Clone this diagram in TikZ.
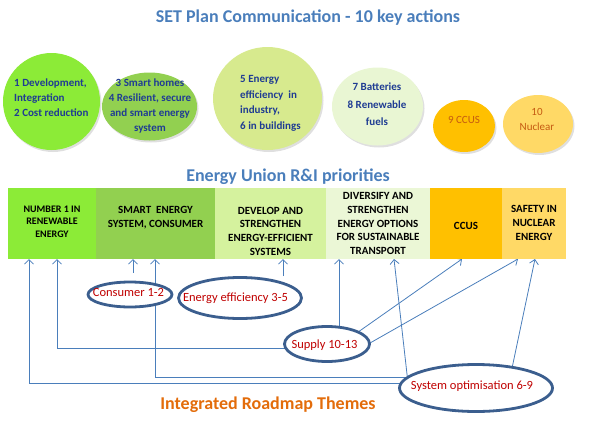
\documentclass[tikz,border=0pt]{standalone}
\usepackage{fontspec}
\setmainfont{Carlito}
\usetikzlibrary{arrows.meta,calc,shadows,backgrounds,shapes.geometric}
\definecolor{cA}{HTML}{8CEB37}
\definecolor{cB}{HTML}{92D050}
\definecolor{cC}{HTML}{D7EA8E}
\definecolor{cD}{HTML}{E9F6D3}
\definecolor{cE}{HTML}{FFC000}
\definecolor{cF}{HTML}{FFD966}
\definecolor{sC}{HTML}{D5F29E}
\definecolor{sD}{HTML}{EBF7D6}
\definecolor{ttlblue}{HTML}{4A7EBB}
\definecolor{ktblue}{HTML}{1F3C93}
\definecolor{ktorange}{HTML}{C55A11}
\definecolor{elline}{HTML}{3B5E8E}
\definecolor{arrblue}{HTML}{4A7EBB}
\definecolor{eltext}{HTML}{C00000}
\definecolor{irtorange}{HTML}{E36C0A}
\begin{document}
\begin{tikzpicture}[x=1pt,y=-1pt,
  keyc/.style={ellipse, draw=none, inner sep=0pt, outer sep=0pt,
    drop shadow={shadow xshift=1.5pt, shadow yshift=-2pt, opacity=0.25}},
  ktxt/.style={font=\fontsize{11}{15}\selectfont\bfseries, text=ktblue, inner sep=0pt},
  seg/.style={rectangle, anchor=north west, minimum height=71pt, inner sep=0pt, outer sep=0pt, draw=none},
  stxt/.style={font=\fontsize{11}{13.7}\selectfont\bfseries, align=center, inner sep=0pt},
  theme/.style={ellipse, draw=elline, line width=2.8pt, fill=white, inner sep=0pt},
  etxt/.style={font=\fontsize{12.5}{15}\selectfont, text=eltext, inner sep=0pt},
  conn/.style={draw=arrblue, line width=0.8pt, -{Straight Barb[length=4.5pt,width=9pt]}},
  heading/.style={font=\fontsize{18}{22}\selectfont\bfseries, text=ttlblue, inner sep=0pt}
]
\useasboundingbox (0,0) rectangle (614,421);

% title
\node[heading] (ttl) at (308,18) {SET Plan Communication - 10 key actions};

% key action circles
\node[keyc, fill=cA, minimum width=97pt, minimum height=97pt] (k1) at (51.5,101.5) {};
\node[keyc, fill=cB, minimum width=95pt, minimum height=68pt] (k2) at (149.5,106.5) {};
\node[keyc, fill=cC, minimum width=109pt, minimum height=103pt] (k3) at (267.5,98.5) {};
\node[keyc, fill=cD, minimum width=91pt, minimum height=78pt] (k4) at (377.5,106.5) {};
\node[keyc, fill=cE, minimum width=62pt, minimum height=52pt] (k5) at (464,126) {};
\node[keyc, fill=cF, minimum width=70pt, minimum height=58pt] (k6) at (538,124) {};

\node[ktxt, align=left, anchor=west] (t1) at (14,98) {1 Development,\\Integration\\2 Cost reduction};
\node[ktxt, align=center] (t2) at (150,106) {3 Smart homes\\4 Resilient, secure\\and smart energy\\system};
\node[ktxt, align=left, anchor=west, font=\fontsize{11}{15.7}\selectfont\bfseries] (t3) at (240,103.5) {5 Energy\\efficiency\ \ in\\industry,\\6 in buildings};
\node[ktxt, align=center, font=\fontsize{11}{17.5}\selectfont\bfseries] (t4) at (377,104.5) {7 Batteries\\8 Renewable\\fuels};
\node[ktxt, text=ktorange, font=\fontsize{11}{15}\selectfont] (t5) at (464,120) {9 CCUS};
\node[ktxt, text=ktorange, align=center, font=\fontsize{11}{15}\selectfont] (t6) at (537,119.5) {10\\Nuclear};

% priorities bar
\node[heading] (eu) at (288,177) {Energy Union R\&I priorities};
\node[seg, fill=cA, minimum width=88pt] (s1) at (8,188) {};
\node[seg, fill=cB, minimum width=119pt] (s2) at (96,188) {};
\node[seg, fill=sC, minimum width=111pt] (s3) at (215,188) {};
\node[seg, fill=sD, minimum width=104pt] (s4) at (326,188) {};
\node[seg, fill=cE, minimum width=72pt] (s5) at (430,188) {};
\node[seg, fill=cF, minimum width=64pt] (s6) at (502,188) {};

\node[stxt, font=\fontsize{10}{12.5}\selectfont\bfseries] (b1) at (52,221.5) {NUMBER 1 IN\\RENEWABLE\\ENERGY};
\node[stxt] (b2) at (155.5,217.5) {SMART\ \ ENERGY\\SYSTEM, CONSUMER};
\node[stxt] (b3) at (270.5,231) {DEVELOP AND\\STRENGTHEN\\ENERGY-EFFICIENT\\SYSTEMS};
\node[stxt] (b4) at (378,223.5) {DIVERSIFY AND\\STRENGTHEN\\ENERGY OPTIONS\\FOR SUSTAINABLE\\TRANSPORT};
\node[stxt] (b5) at (466,226) {CCUS};
\node[stxt] (b6) at (534,223) {SAFETY IN\\NUCLEAR\\ENERGY};

% roadmap themes
\node[theme, minimum width=84pt, minimum height=25pt] (cons) at (130,294.5) {};
\node[etxt] (consT) at (128.5,292) {Consumer 1-2};
\node[theme, minimum width=123pt, minimum height=41pt] (eff) at (240,298) {};
\node[etxt] (effT) at (235.5,298) {Energy efficiency 3-5};
\node[theme, minimum width=85pt, minimum height=35pt] (sup) at (327,344) {};
\node[etxt] (supT) at (324.5,345) {Supply 10-13};
\node[theme, minimum width=153pt, minimum height=47pt] (sys) at (476,388) {};
\node[etxt] (sysT) at (472,386) {System optimisation 6-9};

\node[heading, text=irtorange] (irt) at (268,405) {Integrated Roadmap Themes};

% connectors
\begin{scope}[on background layer]
\draw[conn] ($(sys.center)+(0,-5)$) -| ($(s1.south west)+(21,0)$);
\draw[conn] ($(sup.center)+(0,4)$) -| ($(s1.south west)+(49,0)$);
\draw[conn] ($(cons.north)+(3,-8)$) -- ($(s2.south west)+(37,0)$);
\draw[conn] ($(sys.center)+(0,-11)$) -| ($(s2.south west)+(59,0)$);
\draw[conn] ($(eff.north)+(43,0)$) -- ($(s3.south west)+(68,0)$);
\draw[conn] ($(sup.center)+(12,0)$) -- ($(s4.south west)+(13,0)$);
\draw[conn] ($(sys.center)+(-68,-5)$) -- ($(s4.south west)+(68,0)$);
\draw[conn] ($(sup.center)+(29,-10.5)$) -- ($(s5.south west)+(32,0)$);
\draw[conn] ($(sup.center)+(36,3)$) -- ($(s6.south west)+(16,0)$);
\draw[conn] ($(sys.center)+(35,-15)$) -- ($(s6.south west)+(33,0)$);
\end{scope}
\end{tikzpicture}
\end{document}
